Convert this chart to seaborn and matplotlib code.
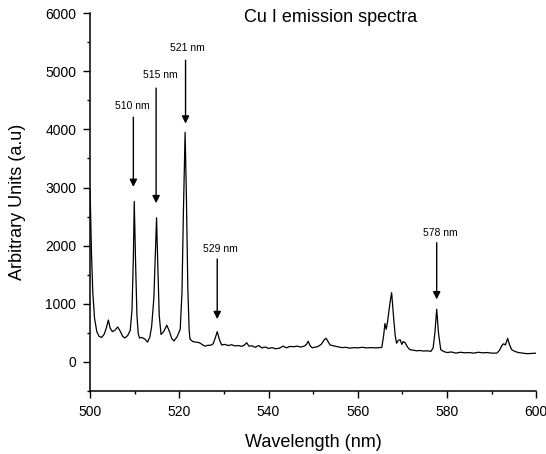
import numpy as np
import pandas as pd
import matplotlib
matplotlib.use("Agg")
import matplotlib.pyplot as plt
import seaborn as sns
from matplotlib.ticker import MultipleLocator

# ---- data ----
wavelength = [
    500.0, 500.3, 500.6, 501.0, 501.5, 502.0, 502.6, 503.2, 503.7, 504.1,
    504.5, 505.0, 505.5, 506.2, 506.8, 507.3, 507.8, 508.4, 509.0, 509.4,
    509.7, 509.9, 510.2, 510.5, 510.8, 511.1, 511.6, 512.3, 512.9, 513.4,
    513.8, 514.3, 514.6, 514.9, 515.2, 515.5, 515.9, 516.5, 517.2, 517.8,
    518.3, 518.8, 519.5, 520.2, 520.6, 520.9, 521.3, 521.6, 521.9, 522.2,
    522.4, 523.0, 523.6, 524.2, 524.7, 525.3, 525.8, 526.4, 527.0, 527.6,
    528.1, 528.5, 529.0, 529.5, 530.2, 531.0, 531.7, 532.4, 533.2, 534.0,
    534.6, 535.1, 535.6, 536.3, 537.0, 537.8, 538.5, 539.3, 540.0, 540.8,
    541.6, 542.4, 543.3, 544.0, 544.8, 545.6, 546.4, 547.2, 548.0, 548.5,
    548.9, 549.3, 549.8, 550.2, 551.0, 551.8, 552.5, 552.9, 553.4, 553.8,
    554.6, 555.5, 556.4, 557.3, 558.2, 559.1, 560.0, 561.0, 562.0, 563.0,
    564.0, 565.0, 565.4, 565.8, 566.1, 566.4, 566.7, 567.2, 567.6, 568.0,
    568.4, 568.7, 569.1, 569.5, 569.9, 570.2, 570.6, 571.2, 571.7, 572.4,
    573.2, 574.0, 574.8, 575.6, 576.4, 576.9, 577.3, 577.7, 578.1, 578.6,
    579.2, 580.0, 581.0, 582.0, 583.0, 584.0, 585.0, 586.0, 587.0, 588.0,
    589.0, 590.0, 591.2, 591.8, 592.3, 592.7, 593.1, 593.6, 594.0, 594.5,
    595.2, 596.0, 597.1, 598.0, 599.0, 600.0,
]
intensity = [
    2950, 1900, 1200, 750, 520, 440, 420, 480, 600, 720,
    580, 520, 540, 600, 520, 440, 410, 450, 540, 900,
    1800, 2760, 1700, 800, 480, 410, 420, 390, 340, 430,
    610, 1100, 1800, 2480, 1600, 800, 470, 520, 630, 520,
    400, 360, 430, 560, 1200, 2500, 3950, 2800, 1300, 550,
    390, 350, 340, 335, 320, 290, 270, 285, 285, 310,
    420, 520, 380, 290, 300, 280, 295, 275, 280, 265,
    290, 330, 270, 275, 250, 280, 240, 255, 230, 245,
    225, 235, 270, 240, 265, 260, 270, 255, 270, 300,
    355, 280, 240, 250, 260, 300, 380, 405, 340, 290,
    275, 260, 245, 250, 235, 245, 240, 250, 240, 245,
    240, 245, 250, 450, 660, 560, 700, 1000, 1190, 800,
    450, 320, 370, 380, 300, 350, 330, 250, 210, 200,
    190, 195, 185, 190, 180, 240, 500, 905, 500, 210,
    180, 160, 170, 150, 165, 155, 160, 150, 165, 155,
    160, 150, 150, 200, 280, 310, 290, 405, 300, 210,
    180, 160, 150, 140, 145, 150,
]

peak_labels = ["510 nm", "515 nm", "521 nm", "529 nm", "578 nm"]
peak_x = [509.7, 514.8, 521.4, 528.5, 577.7]
arrow_tip_y = [3010, 2730, 4100, 735, 1075]
arrow_tail_y = [4210, 4710, 5190, 1770, 2050]
label_x = [509.5, 515.7, 521.7, 529.3, 578.4]
label_y = [4400, 4930, 5400, 1940, 2225]

title_text = "Cu I emission spectra"
x_label = "Wavelength (nm)"
y_label = "Arbitrary Units (a.u)"

df = pd.DataFrame({"wl": wavelength, "I": intensity})

sns.set_theme(style="ticks")
plt.rcParams["font.family"] = ["Liberation Sans", "DejaVu Sans"]

fig = plt.figure(figsize=(5.46, 4.54), dpi=100)
ax = fig.add_axes([0.165, 0.139, 0.817, 0.832])

sns.lineplot(data=df, x="wl", y="I", ax=ax, color="black", linewidth=0.9,
             sort=False)

for lab, px, ty, tl, lx, ly in zip(peak_labels, peak_x, arrow_tip_y,
                                   arrow_tail_y, label_x, label_y):
    ax.annotate("", xy=(px, ty), xytext=(px, tl),
                arrowprops=dict(arrowstyle="-|>", color="black", lw=1.0,
                                mutation_scale=11, shrinkA=0, shrinkB=0))
    ax.text(lx, ly, lab, ha="center", va="center", fontsize=7.5,
            color="black")

ax.text(554, 5930, title_text, ha="center", va="center", fontsize=13,
        color="black")

ax.set_xlim(500, 600)
ax.set_ylim(-500, 6000)
ax.xaxis.set_major_locator(MultipleLocator(20))
ax.xaxis.set_minor_locator(MultipleLocator(10))
ax.yaxis.set_major_locator(MultipleLocator(1000))
ax.yaxis.set_minor_locator(MultipleLocator(500))

ax.set_xlabel(x_label, fontsize=13, labelpad=11, color="black")
ax.set_ylabel(y_label, fontsize=13, labelpad=14, color="black")

for s in ["top", "right"]:
    ax.spines[s].set_visible(False)
for s in ["left", "bottom"]:
    ax.spines[s].set_linewidth(1.1)
    ax.spines[s].set_color("black")

ax.tick_params(which="major", direction="out", length=5, width=1.0,
               labelsize=10, pad=5, colors="black")
ax.tick_params(which="minor", direction="out", length=2.5, width=1.0,
               colors="black")

fig.savefig("out.png", dpi=100)
